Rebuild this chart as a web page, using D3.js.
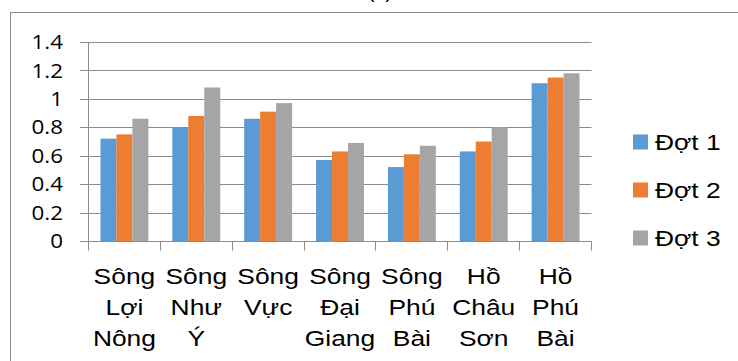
<!DOCTYPE html>
<html>
<head>
<meta charset="utf-8">
<script src="https://cdn.jsdelivr.net/npm/d3@7"></script>
<style>
  html, body { margin: 0; padding: 0; background: #fff; }
  svg { display: block; }
</style>
</head>
<body>
<svg id="chart" width="738" height="361"></svg>
<script>
const categories = [
  ["Sông", "Lợi", "Nông"],
  ["Sông", "Như", "Ý"],
  ["Sông", "Vực"],
  ["Sông", "Đại", "Giang"],
  ["Sông", "Phú", "Bài"],
  ["Hồ", "Châu", "Sơn"],
  ["Hồ", "Phú", "Bài"]
];
const seriesNames = ["Đợt 1", "Đợt 2", "Đợt 3"];
const dot1 = [0.72, 0.80, 0.86, 0.57, 0.52, 0.63, 1.11];
const dot2 = [0.75, 0.88, 0.91, 0.63, 0.61, 0.70, 1.15];
const dot3 = [0.86, 1.08, 0.97, 0.69, 0.67, 0.80, 1.18];
const yTicks = [0, 0.2, 0.4, 0.6, 0.8, 1, 1.2, 1.4];
const colors = ["#5B9BD5", "#ED7D31", "#A5A5A5"];
const titleText = "(a)";

const seriesValues = [dot1, dot2, dot3];
const svg = d3.select("#chart");

// outer chart border
svg.append("rect").attr("x", 10.5).attr("y", 12.5).attr("width", 740).attr("height", 360)
  .attr("fill", "none").attr("stroke", "#8c8c8c").attr("stroke-width", 1);

// clipped title fragment
svg.append("text").attr("x", 380).attr("y", -2).attr("text-anchor", "middle")
  .attr("font-family", "Liberation Sans, Arial, sans-serif").attr("font-size", 20)
  .attr("fill", "#000").text(titleText);

const plotLeft = 88.5, plotRight = 591.5, plotTop = 42, plotBottom = 241;
const catIdx = categories.map((d, i) => i);
const x0 = d3.scaleBand().domain(catIdx).range([plotLeft, plotRight]).padding(0);
const x1 = d3.scaleBand().domain([0, 1, 2]).range([0, x0.bandwidth()]).paddingInner(0).paddingOuter(0.75);
const y = d3.scaleLinear().domain([0, 1.4]).range([plotBottom, plotTop]);

// gridlines
const grid = svg.append("g");
yTicks.forEach(t => {
  const yy = Math.round(y(t)) + 0.5;
  grid.append("line").attr("x1", 80).attr("x2", plotRight).attr("y1", yy).attr("y2", yy)
    .attr("stroke", "#8c8c8c").attr("stroke-width", 1);
});

// bars
const groups = svg.append("g").selectAll("g").data(catIdx).join("g")
  .attr("transform", d => `translate(${x0(d)},0)`);
groups.selectAll("rect").data(ci => seriesValues.map((s, si) => ({ si, v: s[ci] }))).join("rect")
  .attr("x", d => x1(d.si))
  .attr("width", x1.bandwidth())
  .attr("y", d => y(d.v))
  .attr("height", d => y(0) - y(d.v))
  .attr("fill", d => colors[d.si]);

// y axis line
svg.append("line").attr("x1", plotLeft).attr("x2", plotLeft).attr("y1", plotTop).attr("y2", plotBottom)
  .attr("stroke", "#8c8c8c").attr("stroke-width", 1);
// x axis line + category ticks
const zeroY = Math.round(y(0)) + 0.5;
svg.append("line").attr("x1", 80).attr("x2", plotRight).attr("y1", zeroY).attr("y2", zeroY)
  .attr("stroke", "#8c8c8c").attr("stroke-width", 1);
const tickXs = catIdx.map(i => x0(i)).concat([plotRight]);
tickXs.forEach(tx => {
  const xx = Math.round(tx - 0.5) + 0.5;
  svg.append("line").attr("x1", xx).attr("x2", xx).attr("y1", zeroY).attr("y2", zeroY + 9)
    .attr("stroke", "#8c8c8c").attr("stroke-width", 1);
});

// y tick labels
yTicks.forEach(t => {
  svg.append("text")
    .attr("transform", `translate(63,${y(t)}) scale(1.12,1)`)
    .attr("text-anchor", "end").attr("dy", "0.36em")
    .attr("font-family", "Open Sans, sans-serif").attr("font-size", 20)
    .attr("fill", "#000").text(d3.format("~g")(t));
});

// category labels
const lineYs = [284, 315, 346];
categories.forEach((lines, i) => {
  const cx = x0(i) + x0.bandwidth() / 2;
  lines.forEach((ln, li) => {
    svg.append("text")
      .attr("transform", `translate(${cx},${lineYs[li]}) scale(1.2,1)`)
      .attr("text-anchor", "middle")
      .attr("font-family", "Liberation Sans, Arial, sans-serif").attr("font-size", 22)
      .attr("fill", "#000").text(ln);
  });
});

// legend
const legendYs = [142, 190, 238];
seriesNames.forEach((name, i) => {
  svg.append("rect").attr("x", 633).attr("y", legendYs[i] - 7.5).attr("width", 15).attr("height", 15)
    .attr("fill", colors[i]);
  svg.append("text")
    .attr("transform", `translate(655,${legendYs[i] + 8}) scale(1.2,1)`)
    .attr("font-family", "Liberation Sans, Arial, sans-serif").attr("font-size", 22)
    .attr("fill", "#000").text(name);
});
</script>
</body>
</html>
